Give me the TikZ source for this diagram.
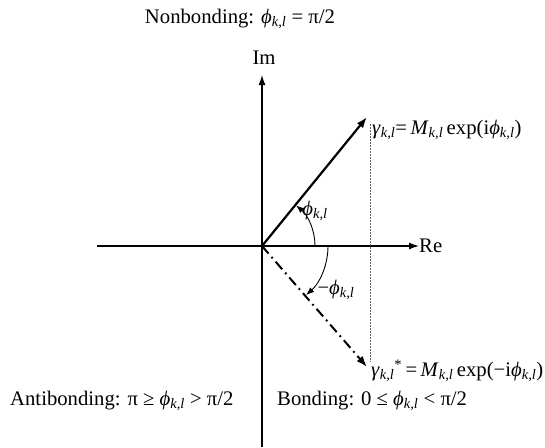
\documentclass[tikz,border=0pt]{standalone}
\usepackage{fontspec}
\setmainfont{Liberation Serif}
\usetikzlibrary{arrows.meta}
\newcommand\phk{\textit{ϕ}\textsubscript{\textit{k,l}}}
\newcommand\sub[1]{\textsubscript{\textit{#1}}}
\begin{document}
\begin{tikzpicture}[x=1pt,y=-1pt,
  lbl/.style={inner sep=0pt,font=\fontsize{20.7}{24}\selectfont},
  axis/.style={line width=1.3pt,-{Latex[length=10pt,width=7pt]}},
  vec/.style={line width=2.2pt,-{Latex[length=11pt,width=8pt]}},
  conj/.style={line width=2pt,dash pattern=on 10pt off 4.5pt on 1.8pt off 4.5pt,-{Latex[length=11pt,width=8pt]}},
  ang/.style={line width=0.9pt,-{Latex[length=8pt,width=6pt]}},
  proj/.style={line width=0.8pt,gray!80!black,dash pattern=on 1.5pt off 1.5pt}]
\useasboundingbox (0,0) rectangle (545,447);
\coordinate (O) at (262,246);
\coordinate (bot) at (262,447);
\coordinate (left) at (97,246);
\node[lbl] (im) at (264,58) {Im};
\node[lbl,anchor=west] (re) at (419,246) {Re};
\coordinate (imtip) at (262,75);
\draw[axis] (bot) -- (imtip);
\draw[axis] (left) -- (re.west);
\coordinate (g) at (367,117);
\coordinate (gs) at (367,367);
\draw[proj] (370,124) -- (370,362);
\draw[vec] (O) -- (g);
\draw[conj] (O) -- (gs);
\draw[ang] ([shift={(53,0)}]O) arc[start angle=0,end angle=-50,radius=53];
\draw[ang] ([shift={(66,0)}]O) arc[start angle=0,end angle=48,radius=66];
\node[lbl] (top) at (240,19) {Nonbonding: \phk{} = π/2};
\node[lbl] (p1) at (315,211) {\phk};
\node[lbl] (p2) at (336,290) {−\phk};
\node[lbl,anchor=west] (gl) at (372,130) {\textit{γ}\sub{k,l}=\,\textit{M}\sub{k,l}\,exp(i\phk)};
\node[lbl,anchor=west] (gsl) at (371,371) {\textit{γ}\sub{k,l}\textsuperscript{*}\,=\,\textit{M}\sub{k,l}\,exp(−i\phk)};
\node[lbl,anchor=west] (ab) at (10,401) {Antibonding: π ≥ \phk{} > π/2};
\node[lbl,anchor=west] (bd) at (277,401) {Bonding: 0 ≤ \phk{} < π/2};
\end{tikzpicture}
\end{document}
